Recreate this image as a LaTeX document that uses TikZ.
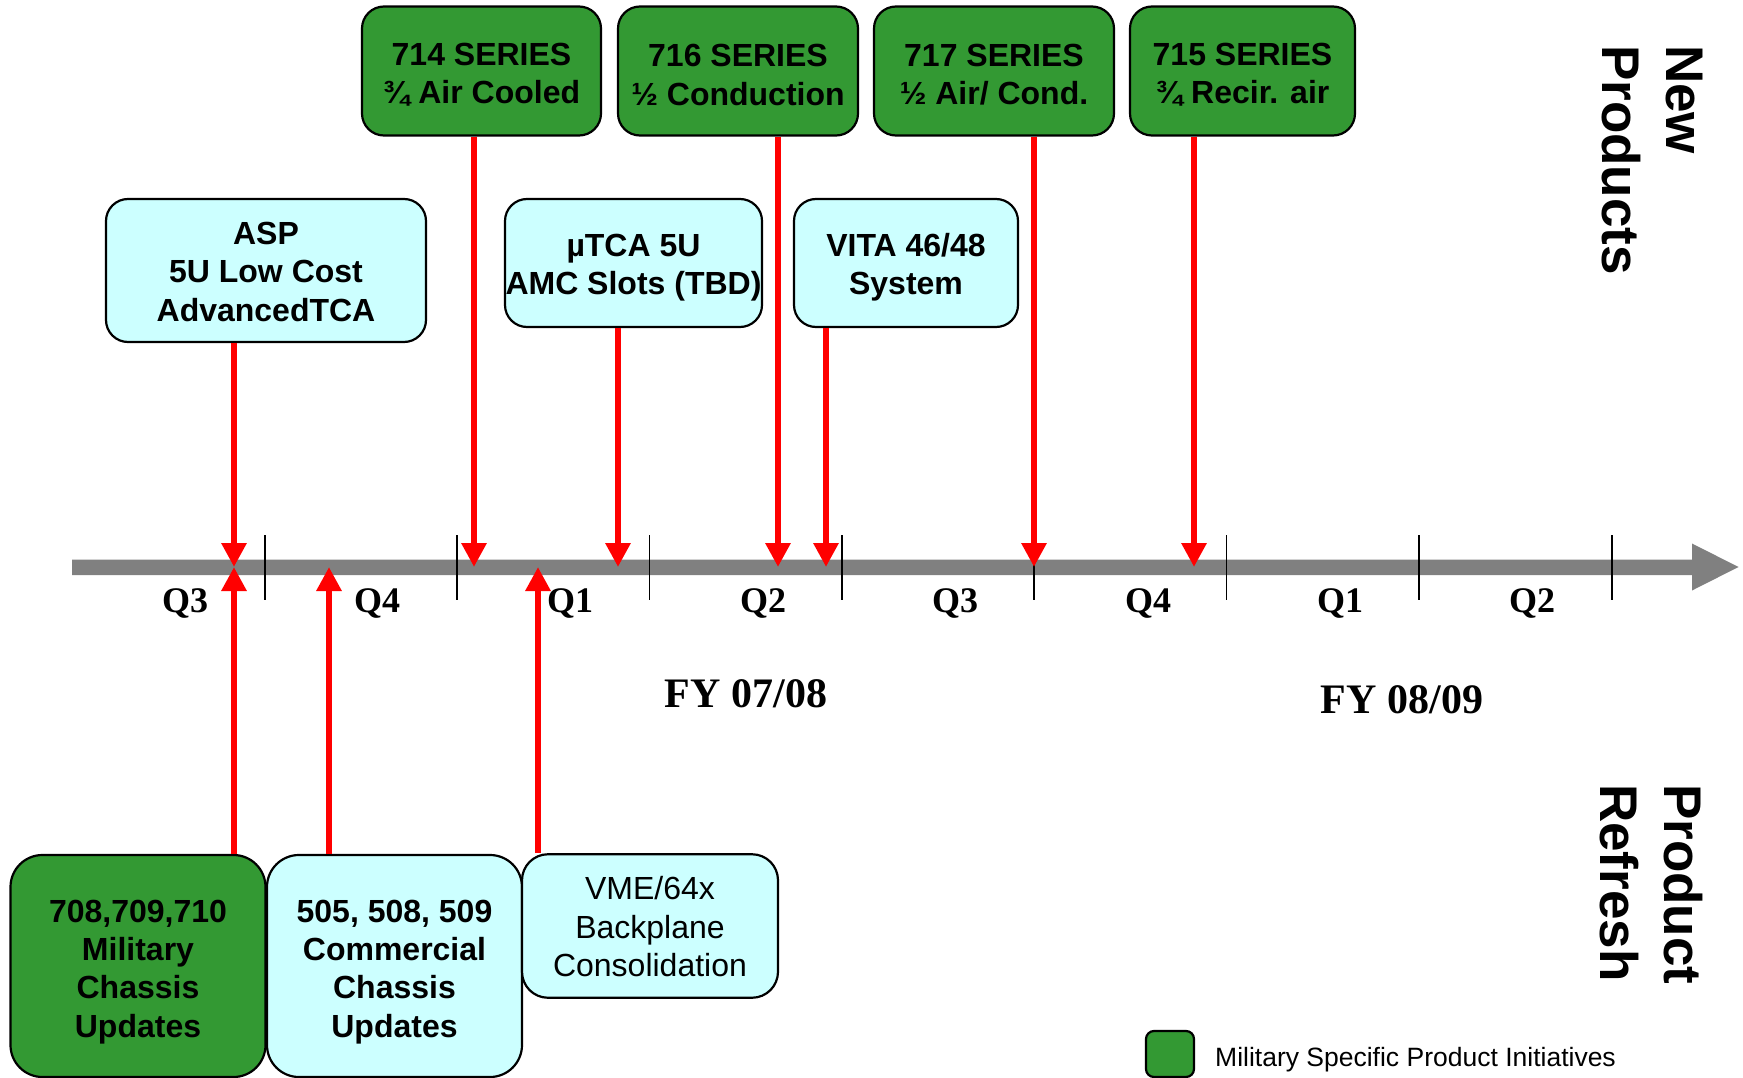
\documentclass[tikz,border=0pt]{standalone}
\usepackage{fontspec}
\setmainfont{Liberation Sans}
\newfontfamily\timesfont{Liberation Serif}
\usetikzlibrary{arrows.meta}
\definecolor{boxgreen}{RGB}{51,153,51}
\definecolor{boxcyan}{RGB}{204,255,255}
\definecolor{axisgray}{RGB}{128,128,128}
\definecolor{arrred}{RGB}{255,0,0}
\newcommand{\vstr}[1]{\rule{0pt}{#1}}
\tikzset{
  basebox/.style={draw=black, line width=2.2pt, rounded corners=22pt, inner sep=0pt,
    align=center, font=\fontsize{32}{38.4}\selectfont\bfseries},
  greenbox/.style={basebox, fill=boxgreen},
  cyanbox/.style={basebox, fill=boxcyan},
  redarrow/.style={draw=arrred, line width=6pt, -{Triangle[width=24pt,length=24pt]}},
  tickline/.style={draw=black, line width=1.5pt},
  qlabel/.style={anchor=base, inner sep=0pt, font=\fontsize{36}{40}\selectfont\timesfont\bfseries},
  fylabel/.style={anchor=base, inner sep=0pt, font=\fontsize{42}{46}\selectfont\timesfont\bfseries},
  sidelabel/.style={rotate=-90, anchor=north west, inner sep=0pt, align=left,
    font=\fontsize{53}{63.6}\selectfont\bfseries}
}
\begin{document}
\begin{tikzpicture}[x=1pt, y=-1pt]
\useasboundingbox (0,0) rectangle (1743,1078);

% axis
\fill[axisgray] (72,559.5) -- (1692,559.5) -- (1692,543.5) -- (1738.5,567)
  -- (1692,590.5) -- (1692,575) -- (72,575) -- cycle;
\foreach \tx in {265,457,649.5,842,1034,1226.5,1419,1612}
  \draw[tickline] (\tx,535) -- (\tx,600);

% quarter labels
\node[qlabel] (q1a) at (185,612) {Q3};
\node[qlabel] (q2a) at (377,612) {Q4};
\node[qlabel] (q3a) at (570,612) {Q1};
\node[qlabel] (q4a) at (763,612) {Q2};
\node[qlabel] (q1b) at (955,612) {Q3};
\node[qlabel] (q2b) at (1148,612) {Q4};
\node[qlabel] (q3b) at (1340,612) {Q1};
\node[qlabel] (q4b) at (1532,612) {Q2};

\node[fylabel] (fy1) at (746,707) {FY 07/08};
\node[fylabel] (fy2) at (1402,713) {FY 08/09};

% top boxes
\node[greenbox, minimum width=239pt, minimum height=129pt] (b714) at (481.5,71) {\vstr{30pt}714 SERIES\\¾ Air Cooled};
\node[greenbox, minimum width=240pt, minimum height=129pt] (b716) at (738,71) {\vstr{30pt}716 SERIES\\½ Conduction};
\node[greenbox, minimum width=240pt, minimum height=129pt] (b717) at (994,71) {\vstr{30pt}717 SERIES\\½ Air/ Cond.};
\node[greenbox, minimum width=225pt, minimum height=129pt] (b715) at (1242.5,71) {\vstr{30pt}715 SERIES\\¾ Recir. air};

% middle boxes
\node[cyanbox, minimum width=320pt, minimum height=143pt] (asp) at (266,270.5) {\vstr{25pt}ASP\\5U Low Cost\\AdvancedTCA};
\node[cyanbox, minimum width=257pt, minimum height=128pt] (utca) at (633.5,263) {\vstr{32pt}µTCA 5U\\AMC Slots (TBD)};
\node[cyanbox, minimum width=224pt, minimum height=128pt] (vita) at (906,263) {\vstr{32pt}VITA 46/48\\System};

% bottom boxes
\node[greenbox, rounded corners=32pt, minimum width=255pt, minimum height=222pt] (mil) at (138,966) {\vstr{34pt}708,709,710\\Military\\Chassis\\Updates};
\node[cyanbox, rounded corners=32pt, minimum width=255pt, minimum height=222pt] (com) at (394.5,966) {\vstr{34pt}505, 508, 509\\Commercial\\Chassis\\Updates};
\node[cyanbox, rounded corners=26pt, minimum width=256pt, minimum height=143.5pt, font=\fontsize{32}{38.4}\selectfont\mdseries] (vme) at (650,926) {\vstr{25pt}VME/64x\\Backplane\\Consolidation};

% arrow targets on the axis
\coordinate (dA) at (234,567);
\coordinate (d714) at (474,567);
\coordinate (dU) at (618,567);
\coordinate (d716) at (778,567);
\coordinate (dV) at (826,567);
\coordinate (d717) at (1034,567);
\coordinate (d715) at (1194,567);
\coordinate (uM) at (234,567);
\coordinate (uC) at (329,567);
\coordinate (uV) at (538,567);

% down arrows
\draw[redarrow] (asp.south -| dA) -- (dA);
\draw[redarrow] (b714.south -| d714) -- (d714);
\draw[redarrow] (utca.south -| dU) -- (dU);
\draw[redarrow] (b716.south -| d716) -- (d716);
\draw[redarrow] (vita.south -| dV) -- (dV);
\draw[redarrow] (b717.south -| d717) -- (d717);
\draw[redarrow] (b715.south -| d715) -- (d715);

% up arrows
\draw[redarrow] (mil.north -| uM) -- (uM);
\draw[redarrow] (com.north -| uC) -- (uC);
\draw[redarrow] (vme.north -| uV) -- (uV);

% side labels
\node[sidelabel] (newp) at (1703,45) {New\\Products};
\node[sidelabel] (refr) at (1703,784) {Product\\Refresh};

% legend
\node[draw=black, line width=2.2pt, fill=boxgreen, rounded corners=8pt, minimum width=48pt, minimum height=46pt, inner sep=0pt] (leg) at (1170,1054) {};
\node[anchor=base west, inner sep=0pt, font=\fontsize{26.5}{30}\selectfont] (legtxt) at (1215,1066) {Military Specific Product Initiatives};
\end{tikzpicture}
\end{document}
